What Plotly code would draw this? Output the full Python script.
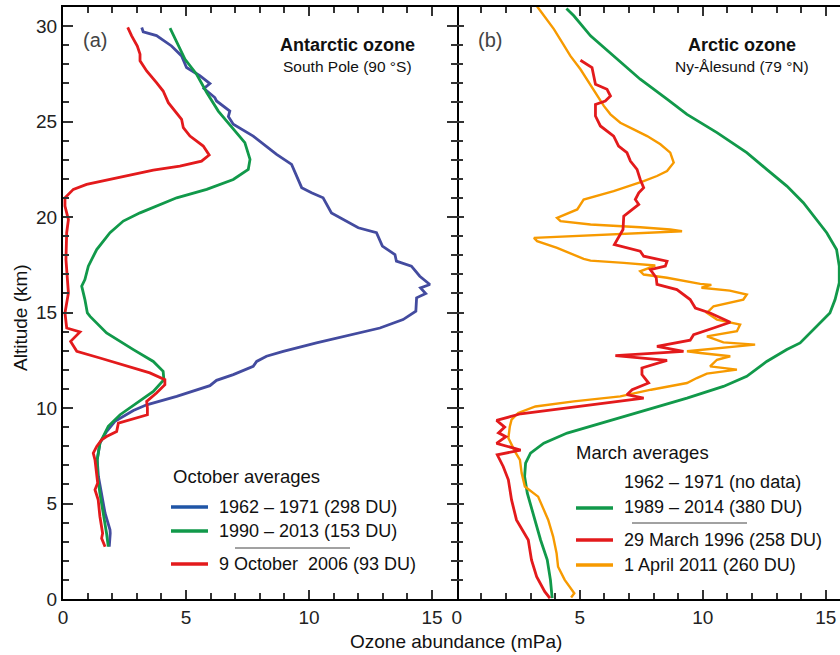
import plotly.graph_objects as go

# ---------------- Antarctic ozone, South Pole, October profiles ----------------
# altitude (km) / ozone partial pressure (mPa)
sp_1962_alt = [29.93, 29.7, 29.5, 28.96, 28.44, 27.83, 27.4, 26.99, 26.73, 26.26, 26.08, 25.55,
               25.26, 24.86, 24.24, 23.72, 23.28, 22.76, 22.14, 21.54, 21.27, 21.01, 20.22, 19.44,
               19.18, 18.48, 18.04, 17.69, 17.43, 16.9, 16.47, 16.29, 15.99, 15.77, 15.07, 14.63,
               14.19, 13.84, 13.41, 12.97, 12.71, 12.44, 12.18, 11.75, 11.45, 11.17, 10.61, 10.17,
               9.87, 9.3, 8.77, 8.16, 7.29, 6.41, 5.54, 4.49, 3.62, 3.44, 2.74]
sp_1962_o3 = [3.20, 3.26, 3.80, 4.41, 4.82, 5.02, 5.56, 5.97, 5.73, 6.17, 6.24, 6.78,
              6.72, 6.92, 7.73, 8.27, 8.68, 9.29, 9.49, 9.70, 10.1, 10.57, 10.91, 12.0,
              12.74, 12.98, 13.49, 13.55, 14.16, 14.5, 14.91, 14.53, 14.74, 14.37, 14.34, 13.82,
              12.88, 11.66, 10.3, 8.95, 8.27, 7.87, 7.73, 6.92, 6.24, 5.97, 4.62, 3.4,
              2.86, 2.11, 1.77, 1.50, 1.39, 1.44, 1.57, 1.71, 1.91, 1.92, 1.88]

sp_1990_alt = [29.89, 29.14, 28.26, 27.48, 26.52, 25.55, 24.59, 23.9, 23.02, 22.5, 21.97, 21.45,
               21.01, 20.66, 20.22, 19.79, 19.18, 18.3, 17.43, 16.73, 16.38, 15.68, 14.98, 14.8,
               13.93, 13.06, 12.44, 11.92, 11.48, 10.87, 10.26, 9.65, 9.04, 8.16, 7.29, 6.41,
               5.54, 4.49, 3.44, 2.74]
sp_1990_o3 = [4.35, 4.62, 4.96, 5.43, 5.84, 6.31, 6.92, 7.39, 7.6, 7.53, 6.92, 5.84,
              4.62, 3.94, 3.13, 2.45, 1.91, 1.37, 1.03, 0.89, 0.76, 0.89, 0.99, 1.1,
              1.77, 2.86, 3.67, 4.07, 4.10, 3.67, 2.99, 2.32, 1.84, 1.50, 1.39, 1.41,
              1.50, 1.64, 1.77, 1.84]

sp_2006_alt = [29.93, 29.49, 28.96, 28.53, 28.18, 27.65, 27.04, 26.6, 25.99, 25.47, 25.12, 24.68,
               24.24, 23.72, 23.25, 22.93, 22.67, 22.46, 22.06, 21.71, 21.45, 21.01, 20.57, 19.87,
               19.18, 17.78, 16.03, 14.98, 14.19, 13.98, 13.49, 12.97, 12.62, 12.18, 11.84, 11.48,
               11.22, 10.79, 10.35, 10.0, 9.65, 9.21, 8.77, 8.51, 8.34, 7.99, 7.64, 7.29, 6.41,
               6.07, 5.72, 5.19, 4.32, 3.44, 3.18, 2.74]
sp_2006_o3 = [2.63, 2.79, 3.02, 3.13, 3.13, 3.4, 3.8, 4.07, 4.28, 4.62, 4.82, 4.89,
              5.16, 5.7, 5.94, 5.63, 4.75, 3.67, 2.18, 0.96, 0.42, 0.08, 0.08, 0.22,
              0.15, 0.12, 0.22, 0.08, 0.15, 0.69, 0.31, 0.56, 1.5, 2.59, 3.53, 4.14,
              4.14, 3.8, 3.4, 3.43, 3.43, 2.25, 2.18, 1.77, 1.57, 1.37, 1.23, 1.3, 1.37,
              1.41, 1.30, 1.43, 1.50, 1.61, 1.57, 1.71]

# ---------------- Arctic ozone, Ny-Ålesund, March/April profiles ----------------
ny_1989_alt = [30.92, 30.54, 29.49, 28.44, 27.22, 26.17, 25.38, 24.42, 23.37, 22.5, 21.62, 20.75,
               19.87, 19.18, 18.3, 17.43, 16.55, 15.68, 14.98, 14.63, 13.93, 13.41, 13.06, 12.44,
               11.66, 11.13, 10.52, 9.82, 9.21, 8.69, 8.16, 7.64, 7.12, 6.41, 5.54, 4.32,
               3.09, 2.05, 1.0, 0.04]
ny_1989_o3 = [4.46, 4.76, 5.44, 6.38, 7.46, 8.55, 9.36, 10.58, 11.79, 12.6, 13.42, 14.09,
              14.63, 15.04, 15.44, 15.55, 15.55, 15.38, 15.17, 14.9, 14.36, 13.96, 13.42, 12.6,
              11.79, 10.84, 9.36, 7.46, 5.84, 4.49, 3.54, 3.0, 2.8, 2.76, 2.87, 3.14,
              3.41, 3.68, 3.81, 3.88]

ny_1996_alt = [28.21, 27.83, 26.95, 26.69, 26.34, 26.08, 25.9, 25.29, 24.77, 24.24, 23.72, 23.37,
               22.93, 22.5, 21.97, 21.54, 21.27, 20.92, 20.66, 20.05, 19.35, 18.56, 18.21, 17.95,
               17.69, 17.43, 17.25, 16.82, 16.47, 16.2, 15.68, 15.24, 14.98, 14.49, 14.19, 13.84,
               13.55, 13.23, 12.97, 12.74, 12.5, 12.1, 11.75, 11.31, 10.96, 10.7, 10.52, 10.2,
               9.95, 9.7, 9.35, 9.0, 8.7, 8.5, 8.15, 7.8, 7.55, 6.94, 6.24, 5.19,
               4.14, 3.09, 2.05, 1.17, 0.38, 0.04]
ny_1996_o3 = [5.03, 5.5, 5.64, 6.11, 6.25, 6.04, 5.64, 5.64, 5.84, 6.38, 6.58, 6.92,
              7.06, 7.33, 7.46, 7.6, 7.4, 7.26, 7.4, 6.79, 6.76, 6.41, 7.46, 7.6,
              8.55, 8.48, 7.87, 8.11, 8.14, 8.95, 9.49, 9.7, 10.3, 11.12, 10.44, 9.63,
              9.49, 8.14, 9.22, 6.45, 8.55, 7.53, 7.53, 7.8, 7.13, 6.92, 7.6, 5.7,
              4.0, 2.6, 1.62, 1.95, 1.7, 2.0, 1.62, 2.6, 1.65, 1.89, 2.1, 2.23,
              2.43, 2.91, 3.04, 3.25, 3.58, 3.79]

ny_2011_alt = [31.03, 30.54, 29.84, 29.14, 28.44, 27.74, 27.04, 26.34, 25.82, 25.38, 24.94, 24.59,
               24.24, 23.81, 23.37, 22.85, 22.41, 22.15, 21.88, 21.36, 20.92, 20.4, 19.96, 19.79,
               19.61, 19.47, 19.35, 19.26, 19.12, 18.91, 18.74, 18.39, 17.81, 17.72, 17.6, 17.46,
               17.16, 16.99, 16.82, 16.5, 16.45, 16.3, 16.15, 15.94, 15.68, 15.33, 14.98, 14.63,
               14.37, 14.02, 13.75, 13.44, 13.32, 13.15, 12.97, 12.88, 12.71, 12.53, 12.18, 12.01,
               11.8, 11.57, 11.31, 10.96, 10.61, 10.35, 10.08, 9.74, 9.39, 9.04, 8.43, 7.72,
               7.29, 6.59, 5.89, 5.36, 4.93, 4.14, 3.27, 2.4, 1.69, 1.0, 0.3, 0.08]
ny_2011_o3 = [3.27, 3.54, 3.95, 4.29, 4.62, 5.03, 5.37, 5.71, 5.98, 6.25, 6.65, 7.19,
              7.74, 8.28, 8.68, 8.82, 8.55, 8.14, 7.6, 6.38, 5.16, 4.9, 4.08, 4.22,
              5.44, 7.46, 8.68, 9.16, 6.79, 3.14, 3.27, 4.08, 5.16, 5.44, 6.79, 8.07,
              7.46, 7.6, 8.55, 9.9, 10.35, 9.95, 11.1, 11.79, 11.65, 10.44, 10.17, 10.58,
              11.52, 11.39, 10.17, 10.84, 12.13, 10.84, 9.36, 9.9, 11.12, 10.58, 10.3, 11.39,
              10.17, 9.76, 9.36, 7.9, 6.65, 4.76, 3.2, 2.5, 2.23, 2.16, 2.1, 2.37,
              2.57, 2.64, 2.77, 3.31, 3.45, 3.72, 3.92, 4.06, 4.12, 4.39, 4.78, 4.65]

# ---------------- styling ----------------
BLUE = "#434b9f"
BLUE_KEY = "#1f55a6"
GREEN = "#11994a"
RED = "#e31a1c"
ORANGE = "#f79a00"
FONT = "Liberation Sans"

W, H = 840, 655
ML, MT, MB, MR = 63, 7, 56, 0
PW, PH = W - ML - MR, H - MT - MB
SPLIT = 393.7 / PW


def px(x):
    return (x - ML) / PW


def py(y):
    return (H - MB - y) / PH


fig = go.Figure()

lw = 2.8
fig.add_trace(go.Scatter(x=sp_1962_o3, y=sp_1962_alt, mode="lines", line=dict(color=BLUE, width=lw),
                         xaxis="x", yaxis="y", showlegend=False))
fig.add_trace(go.Scatter(x=sp_1990_o3, y=sp_1990_alt, mode="lines", line=dict(color=GREEN, width=lw),
                         xaxis="x", yaxis="y", showlegend=False))
fig.add_trace(go.Scatter(x=sp_2006_o3, y=sp_2006_alt, mode="lines", line=dict(color=RED, width=lw),
                         xaxis="x", yaxis="y", showlegend=False))

fig.add_trace(go.Scatter(x=ny_1989_o3, y=ny_1989_alt, mode="lines", line=dict(color=GREEN, width=lw),
                         xaxis="x2", yaxis="y2", showlegend=False))
fig.add_trace(go.Scatter(x=ny_2011_o3, y=ny_2011_alt, mode="lines", line=dict(color=ORANGE, width=2.4),
                         xaxis="x2", yaxis="y2", showlegend=False))
fig.add_trace(go.Scatter(x=ny_1996_o3, y=ny_1996_alt, mode="lines", line=dict(color=RED, width=lw),
                         xaxis="x2", yaxis="y2", showlegend=False))

axis_common = dict(
    linecolor="black", linewidth=2,
    showgrid=False, zeroline=False,
    ticks="inside", tickcolor="#333", tickwidth=1.5,
    tickfont=dict(family=FONT, size=19, color="#222"),
    minor=dict(ticks="inside", ticklen=6, tickcolor="#333", tickwidth=1.5, dtick=1, showgrid=False),
)

fig.update_layout(
    width=W, height=H,
    margin=dict(l=ML, r=MR, t=MT, b=MB),
    paper_bgcolor="white", plot_bgcolor="white",
    xaxis=dict(domain=[0, SPLIT], range=[0, 16], anchor="y", tick0=0, dtick=5, ticklen=9,
               showline=True, mirror="ticks", **axis_common),
    xaxis2=dict(domain=[SPLIT, 1], range=[0, 15.58], anchor="y2", tick0=0, dtick=5, ticklen=9,
                showline=True, mirror="ticks", **axis_common),
    yaxis=dict(domain=[0, 1], range=[0, 31], anchor="x", tick0=0, dtick=5, ticklen=10,
               showline=True, mirror="ticks", **axis_common),
    # panel (b) shares the dividing frame line of panel (a); its right frame runs off the page
    yaxis2=dict(domain=[0, 1], range=[0, 31], anchor="x2", tick0=0, dtick=5, ticklen=7,
                showline=False, mirror=False, showticklabels=False, **axis_common),
)

annotations = []
shapes = []


def text(x, y, s, size=17, anchor="left", bold=False, color="#111", angle=0):
    if bold:
        s = "<b>" + s + "</b>"
    annotations.append(dict(x=px(x), y=py(y), xref="paper", yref="paper", text=s, showarrow=False,
                            xanchor=anchor, yanchor="middle", textangle=angle,
                            font=dict(family=FONT, size=size, color=color)))


def key(x0, x1, y, color):
    shapes.append(dict(type="line", xref="paper", yref="paper", x0=px(x0), x1=px(x1), y0=py(y), y1=py(y),
                       line=dict(color=color, width=3.5)))


def rule(x0, x1, y):
    shapes.append(dict(type="line", xref="paper", yref="paper", x0=px(x0), x1=px(x1), y0=py(y), y1=py(y),
                       line=dict(color="#444", width=1)))


# axis titles
text(20, 318, "Altitude (km)", size=19, anchor="center", angle=-90)
text(456, 641, "Ozone abundance (mPa)", size=19, anchor="center")

# panel headings
text(81, 40, "(a)", size=20, color="#444")
text(347, 45, "Antarctic ozone", size=18, anchor="center", bold=True)
text(347, 67, "South Pole (90 °S)", size=15.5, anchor="center")
text(476, 40, "(b)", size=20, color="#444")
text(742, 45, "Arctic ozone", size=18, anchor="center", bold=True)
text(742, 67, "Ny-Ålesund (79 °N)", size=15.5, anchor="center")

# key, panel (a)
text(171, 476, "October averages", size=18.5)
key(171, 208, 507, BLUE_KEY)
text(217, 507, "1962 – 1971 (298 DU)", size=18)
key(171, 208, 531, GREEN)
text(217, 531, "1990 – 2013 (153 DU)", size=18)
rule(235, 350, 548)
key(171, 208, 564, RED)
text(217, 564, "9 October  2006 (93 DU)", size=18)

# key, panel (b)
text(574, 452, "March averages", size=18.5)
text(622, 482, "1962 – 1971 (no data)", size=18)
key(576, 613, 508, GREEN)
text(622, 507, "1989 – 2014 (380 DU)", size=18)
rule(632, 747, 523)
key(576, 613, 540, RED)
text(622, 540, "29 March 1996 (258 DU)", size=18)
key(576, 613, 565, ORANGE)
text(622, 565, "1 April 2011 (260 DU)", size=18)

fig.update_layout(annotations=annotations, shapes=shapes)

fig.write_html("out.html")
